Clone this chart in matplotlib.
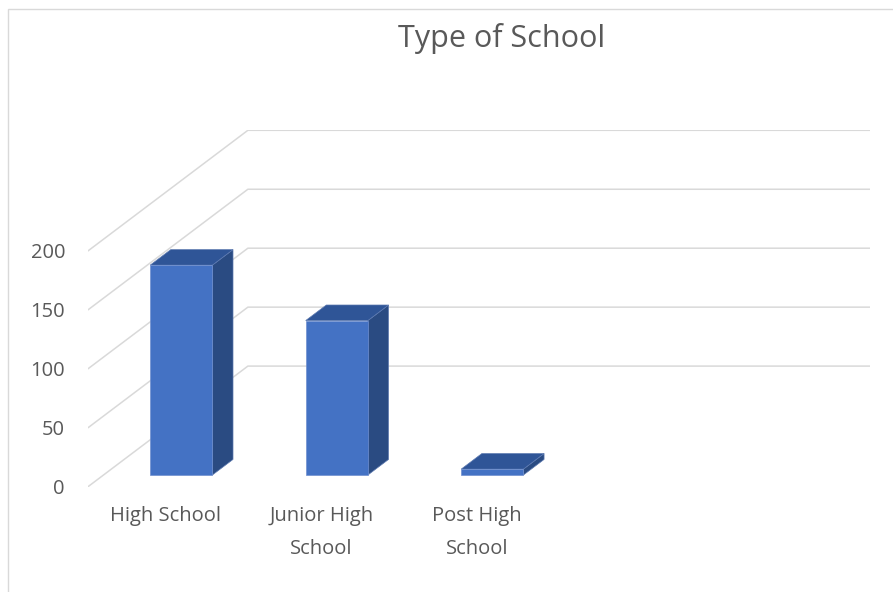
import matplotlib.pyplot as plt
from matplotlib.patches import Polygon, Rectangle

# data (4th category is blank in the source sheet)
categories = ["High School", "Junior High\nSchool", "Post High\nSchool", ""]
counts = [178, 131, 5, None]
y_ticks = [0, 50, 100, 150, 200]

# 3d look: depth of the floor in data units (x in categories, y in values)
depth_x = 1.028
depth_y = 102.3
bar_w = 0.40
bar_z0 = 0.097   # front of bar, as fraction of full depth
bar_dz = 0.129   # bar thickness, as fraction of full depth

front_col = "#4472C4"
top_col = "#2F5597"
side_col = "#2A4B82"
grid_col = "#D9D9D9"
text_col = "#595959"

fig = plt.figure(figsize=(8.93, 5.92), dpi=100)
W, H = 893, 592
# axes spans from the front-left corner of the floor to the back-right top
ax = fig.add_axes([88 / W, (H - 486.7) / H, (870 - 88) / W, (486.7 - 130.3) / H])
ax.set_xlim(0, len(categories) + depth_x)
ax.set_ylim(0, max(y_ticks) + depth_y)
ax.axis("off")

# gridlines: diagonal on the left wall, then straight across the back wall
for v in y_ticks:
    xs = [0, depth_x, len(categories) + depth_x]
    ys = [v, v + depth_y, v + depth_y]
    ax.plot(xs, ys, color=grid_col, lw=1.1, solid_capstyle="round", zorder=1)
    ax.annotate(str(v), (0, v), xytext=(-23, -2), textcoords="offset pixels",
                ha="right", va="center", color=text_col, fontsize=14.5,
                family="Open Sans", annotation_clip=False)


def draw_bar(ax, xc, val):
    ox = bar_z0 * depth_x
    oy = bar_z0 * depth_y
    dx = bar_dz * depth_x
    dy = bar_dz * depth_y
    x0 = xc - bar_w / 2 + ox
    x1 = xc + bar_w / 2 + ox
    y0 = oy
    y1 = oy + val
    front = Polygon([(x0, y0), (x1, y0), (x1, y1), (x0, y1)],
                    facecolor=front_col, edgecolor="#6F8FCF", lw=0.5, zorder=3)
    top = Polygon([(x0, y1), (x1, y1), (x1 + dx, y1 + dy), (x0 + dx, y1 + dy)],
                  facecolor=top_col, edgecolor="#5C79B0", lw=0.5, zorder=3)
    side = Polygon([(x1, y0), (x1 + dx, y0 + dy), (x1 + dx, y1 + dy), (x1, y1)],
                   facecolor=side_col, edgecolor="#5C79B0", lw=0.5, zorder=3)
    for p in (side, top, front):
        ax.add_patch(p)


for i, val in enumerate(counts):
    if val is not None:
        draw_bar(ax, i + 0.5, val)

for i, lab in enumerate(categories):
    ax.annotate(lab, (i + 0.5, 0), xytext=(0, -19), textcoords="offset pixels",
                ha="center", va="top", color=text_col, fontsize=14.5,
                family="Open Sans", linespacing=1.88, annotation_clip=False)

fig.text(502 / W, 1 - 38 / H, "Type of School", ha="center", va="center",
         color=text_col, fontsize=22, family="Open Sans")

# chart area border (only top and left edge are inside the crop)
fig.add_artist(Rectangle((8 / W, -0.5), 2, 1 - 9 / H + 0.5, transform=fig.transFigure,
                         fill=False, edgecolor=grid_col, lw=1.0))

fig.savefig("out.png", dpi=100)
